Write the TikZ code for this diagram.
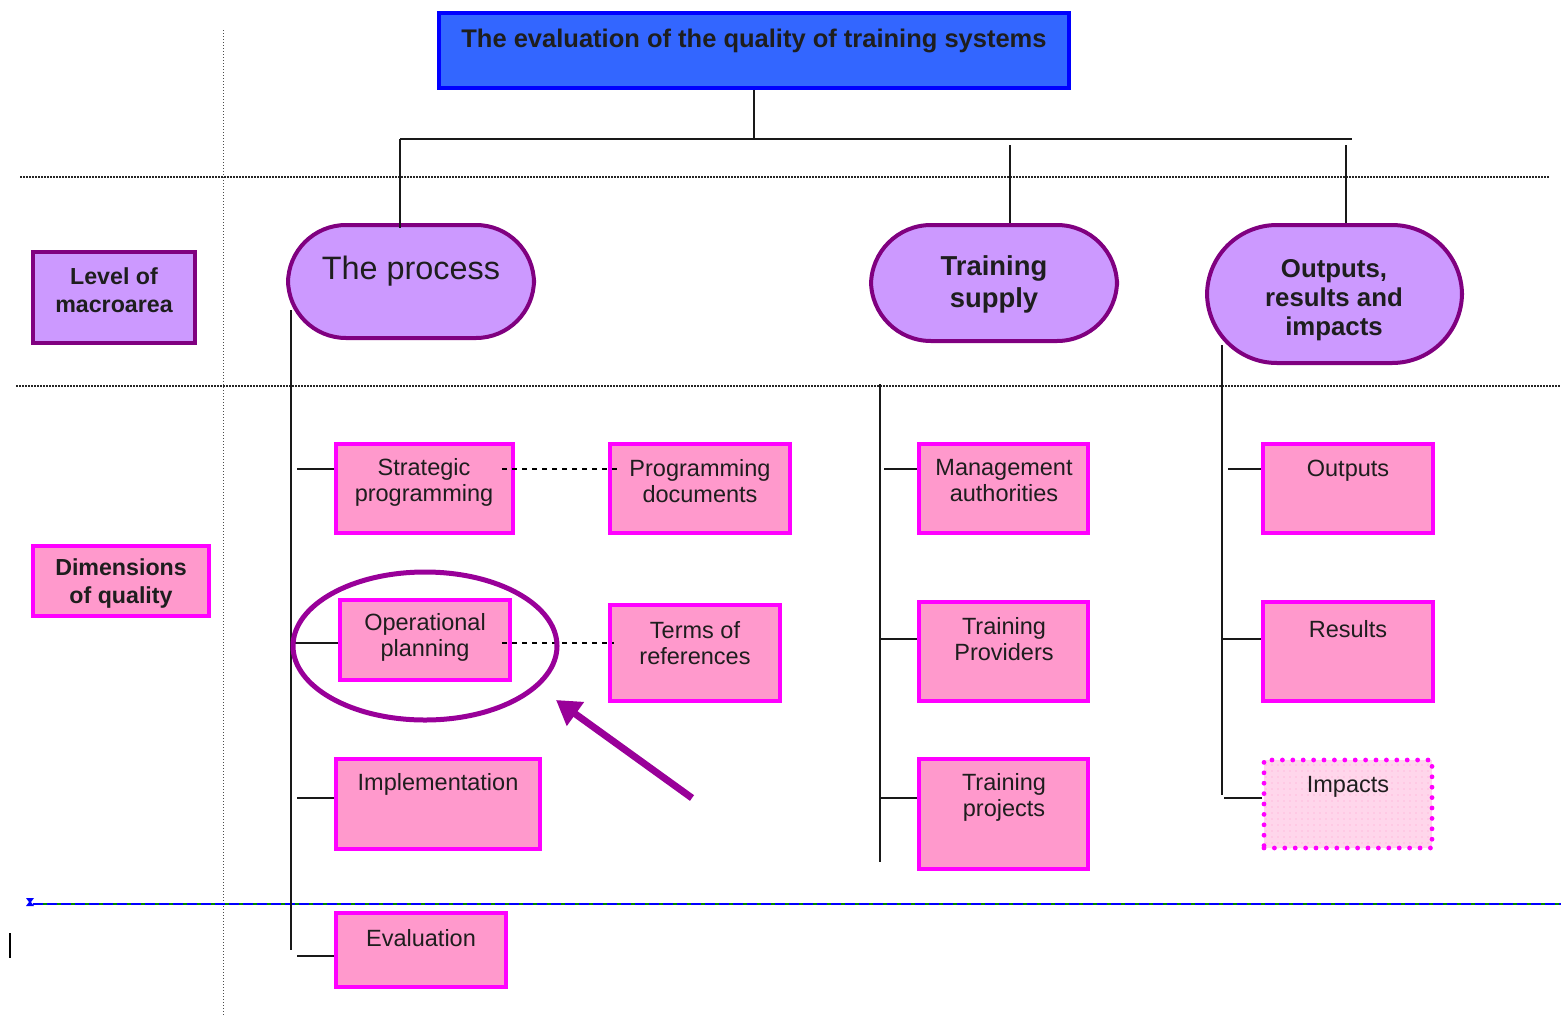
\documentclass[tikz,border=0pt]{standalone}
\usepackage{fontspec}
\setmainfont{Liberation Sans}
\usetikzlibrary{arrows.meta,patterns,shapes.geometric}
\definecolor{txt}{HTML}{1E1E1E}
\definecolor{lilac}{HTML}{CC99FF}
\definecolor{plum}{HTML}{800080}
\definecolor{rose}{HTML}{FF99CC}
\definecolor{fuchsia}{HTML}{FF00FF}
\definecolor{titleblue}{HTML}{3366FF}
\definecolor{deepblue}{HTML}{0000FF}
\definecolor{ringc}{HTML}{990099}
\definecolor{hatch}{HTML}{FF8CC6}
\definecolor{hatchbg}{HTML}{FFD6EB}
\newcommand\mkbox[6]{%
  \node[#1, minimum width={(#5-#3)*0.5pt-2pt}, minimum height={(#6-#4)*0.5pt-2pt}] (#2) at ({(#3+#5)/2},{(#4+#6)/2}) {};}
\begin{document}
\begin{tikzpicture}[x=0.5pt,y=-0.5pt,
  pinkbox/.style={draw=fuchsia, fill=rose, line width=2pt, inner sep=0pt},
  lilacbox/.style={draw=plum, fill=lilac, line width=2pt, inner sep=0pt},
  stadium/.style={draw=plum, fill=lilac, line width=2pt, inner sep=0pt, rounded corners=#1},
  titlebox/.style={draw=deepblue, fill=titleblue, line width=2pt, inner sep=0pt},
  hatchbox/.style={draw=fuchsia, line width=2.4pt, dash pattern=on 0pt off 5.2pt, line cap=round, inner sep=0pt,
     preaction={fill=hatchbg}, pattern=north east lines, pattern color=hatch,
     postaction={pattern=north west lines, pattern color=hatch}},
  body/.style={text=txt, align=center, inner sep=0pt, font=\fontsize{11.75}{13}\selectfont},
  boldlbl/.style={text=txt, align=center, inner sep=0pt, font=\bfseries\fontsize{11.6}{14}\selectfont},
  macro/.style={text=txt, align=center, inner sep=0pt, font=\bfseries\fontsize{13.7}{#1}\selectfont},
  conn/.style={draw=black!90, line width=0.75pt},
  dotline/.style={draw=black!85, line width=0.75pt, dash pattern=on 0.75pt off 0.75pt},
  vdot/.style={draw=black!70, line width=0.5pt, dash pattern=on 0.5pt off 1pt},
  link/.style={draw=black, line width=0.6pt, dash pattern=on 2.5pt off 2.5pt},
  ringstyle/.style={draw=ringc, line width=2.5pt, ellipse, inner sep=0pt},
  bigarrow/.style={draw=ringc, line width=3.5pt, -{Triangle[length=12pt,width=14pt]}}
]
\useasboundingbox (0,0) rectangle (1561,1017);

% guide lines
\coordinate (g1a) at (20,177); \coordinate (g1b) at (1550,177);
\coordinate (g2a) at (16,386); \coordinate (g2b) at (1561,386);
\coordinate (gva) at (223,30); \coordinate (gvb) at (223,1017);
\draw[dotline] (g1a) -- (g1b);
\draw[dotline] (g2a) -- (g2b);
\draw[vdot] (gva) -- (gvb);
\coordinate (bla) at (33,904); \coordinate (blb) at (1561,904);
\draw[draw=green!55!black, line width=0.6pt] (bla) -- (blb);
\draw[draw=blue, line width=0.8pt, dash pattern=on 5pt off 2pt] (bla) -- (blb);
\fill[blue] (26,898) -- (34,898) -- (31,902) -- (34,906) -- (26,906) -- (29,902) -- cycle;
\coordinate (cura) at (10,933); \coordinate (curb) at (10,958);
\draw[line width=1pt] (cura) -- (curb);

% title
\mkbox{titlebox}{title}{437}{11}{1071}{90}
\node[text=txt, inner sep=0pt, font=\bfseries\fontsize{12.75}{14}\selectfont] (titleT) at (754,41) {The evaluation of the quality of training systems};

% top tree
\coordinate (hL) at (400,139); \coordinate (hR) at (1352,139);
\coordinate (t1) at (1010,145); \coordinate (o1) at (1346,145);
\draw[conn] (title.south) -- (title.south |- hL);
\draw[conn] (hL) -- (hR);

% left labels
\mkbox{lilacbox}{lvl}{31}{250}{197}{345}
\node[boldlbl] (lvlT) at (114,290) {Level of\\macroarea};
\mkbox{pinkbox}{dim}{31}{544}{211}{618}
\node[boldlbl] (dimT) at (121,583) {Dimensions\\of quality};

% macro areas
\mkbox{stadium=29pt}{pr}{286}{223}{536}{340}
\node[text=txt, inner sep=0pt, font=\fontsize{16.2}{18}\selectfont] (prT) at (411,271) {The process};
\mkbox{stadium=30pt}{ts}{869}{223}{1119}{343}
\node[macro=16pt] (tsT) at (994,284) {Training\\supply};
\mkbox{stadium=35pt}{op}{1205}{223}{1464}{365}
\node[text=txt, align=center, inner sep=0pt, font=\bfseries\fontsize{12.9}{14.6}\selectfont] (opT) at (1334,300) {Outputs,\\results and\\impacts};

\draw[conn] (hL) -- (hL |- 0,228);
\draw[conn] (t1) -- (t1 |- ts.north);
\draw[conn] (o1) -- (o1 |- op.north);

% trunks
\coordinate (p1) at (291,310); \coordinate (p2) at (291,950);
\coordinate (s1) at (880,384); \coordinate (s2) at (880,862);
\coordinate (r1) at (1222,345); \coordinate (r2) at (1222,795);
\draw[conn] (p1) -- (p2);
\draw[conn] (s1) -- (s2);
\draw[conn] (r1) -- (r2);

% process column
\mkbox{pinkbox}{sp}{334}{442}{515}{535}
\node[body] (spT) at (424,482) {Strategic\\programming};
\mkbox{pinkbox}{pd}{608}{442}{792}{535}
\node[body] (pdT) at (700,481) {Programming\\documents};
\mkbox{pinkbox}{opl}{338}{598}{512}{682}
\node[body] (oplT) at (425,637) {Operational\\planning};
\mkbox{pinkbox}{tr}{608}{603}{782}{703}
\node[body] (trT) at (695,643) {Terms of\\references};
\mkbox{pinkbox}{im}{334}{757}{542}{851}
\node[body] (imT) at (438,784) {Implementation};
\mkbox{pinkbox}{ev}{334}{911}{508}{989}
\node[body] (evT) at (421,938) {Evaluation};

\coordinate (pb1) at (297,469); \coordinate (pb2) at (291,643);
\coordinate (pb3) at (297,798); \coordinate (pb4) at (297,956);
\draw[conn] (pb1) -- (sp.west |- pb1);
\draw[conn] (pb2) -- (opl.west |- pb2);
\draw[conn] (pb3) -- (im.west |- pb3);
\draw[conn] (pb4) -- (ev.west |- pb4);
\draw[link] ([xshift=-6.5pt]sp.east |- pb1) -- ([xshift=4.5pt]pd.west |- pb1);
\draw[link] ([xshift=-5pt]opl.east |- pb2) -- ([xshift=3pt]tr.west |- pb2);

% training supply column
\mkbox{pinkbox}{ma}{917}{442}{1090}{535}
\node[body] (maT) at (1004,481) {Management\\authorities};
\mkbox{pinkbox}{tp}{917}{600}{1090}{703}
\node[body] (tpT) at (1004,639) {Training\\Providers};
\mkbox{pinkbox}{tj}{917}{757}{1090}{871}
\node[body] (tjT) at (1004,797) {Training\\projects};
\coordinate (sb1) at (884,469); \coordinate (sb2) at (880,639); \coordinate (sb3) at (880,798);
\draw[conn] (sb1) -- (ma.west |- sb1);
\draw[conn] (sb2) -- (tp.west |- sb2);
\draw[conn] (sb3) -- (tj.west |- sb3);

% outputs column
\mkbox{pinkbox}{ou}{1261}{442}{1435}{535}
\node[body] (ouT) at (1348,471) {Outputs};
\mkbox{pinkbox}{re}{1261}{600}{1435}{703}
\node[body] (reT) at (1348,629) {Results};
\mkbox{hatchbox}{ip}{1262}{758}{1434}{850}
\node[body] (ipT) at (1348,787) {Impacts};
\coordinate (rb1) at (1228,469); \coordinate (rb2) at (1222,639); \coordinate (rb3) at (1224,798);
\draw[conn] (rb1) -- (ou.west |- rb1);
\draw[conn] (rb2) -- (re.west |- rb2);
\draw[conn] (rb3) -- (ip.west |- rb3);

% highlight ring and arrow
\node[ringstyle, minimum width=132pt, minimum height=74pt] (ring) at (425,646) {};
\coordinate (aS) at (692,798); \coordinate (aE) at (556,700);
\draw[bigarrow] (aS) -- (aE);
\end{tikzpicture}
\end{document}
